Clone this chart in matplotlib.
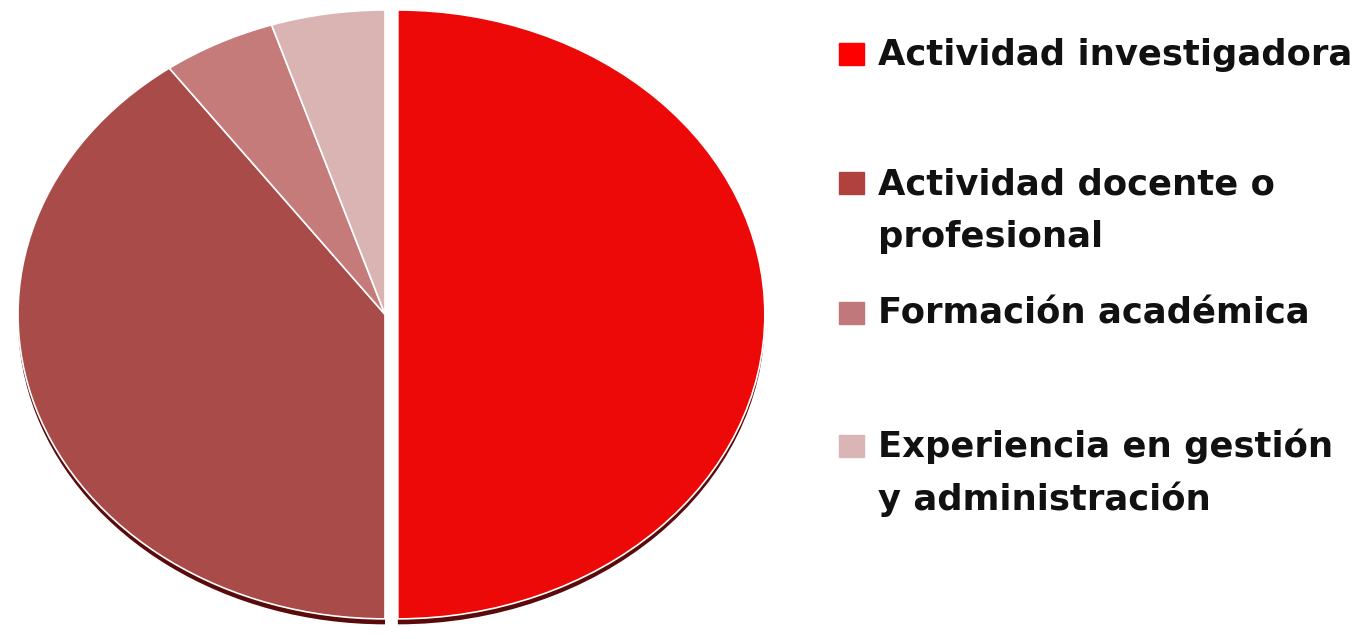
import matplotlib.pyplot as plt
from matplotlib.patches import Rectangle

# datos (porcentajes)
categorias = ["Actividad investigadora", "Actividad docente o\nprofesional",
              "Formación académica", "Experiencia en gestión\ny administración"]
valores = [50, 40, 5, 5]
colores_pie = ["#EE0909", "#A84B49", "#C47B7A", "#D9B4B3"]
colores_leyenda = ["#FF0000", "#B0413F", "#C0787A", "#D9B5B5"]
explode = [0.035, 0, 0, 0]

W, H = 1352, 639
fig = plt.figure(figsize=(W / 100, H / 100), dpi=100)

# ejes del pie (elipse, sin aspecto igual)
x0, x1 = -1.0, 1.06
rx, ry = 367, 309
ax = fig.add_axes([18 / W, (H - 628) / H, rx * (x1 - x0) / W, 2 * ry / H])

# sombra oscura debajo
ax.pie(valores, colors=["#5A0A0A"] * 4, startangle=90, counterclock=False,
       explode=explode, center=(0, -0.018), wedgeprops=dict(linewidth=0))
ax.pie(valores, colors=colores_pie, startangle=90, counterclock=False,
       explode=explode, wedgeprops=dict(edgecolor="white", linewidth=1.2))
ax.set_aspect("auto")
ax.set_xlim(x0, x1)
ax.set_ylim(-1.03, 1.0)
ax.axis("off")

# leyenda manual
baselines = [65, 194, 324, 457]
for lab, col, yb in zip(categorias, colores_leyenda, baselines):
    fig.patches.append(Rectangle((839 / W, (H - yb) / H), 25 / W, 22 / H,
                                 transform=fig.transFigure, color=col))
    for i, linea in enumerate(lab.split("\n")):
        fig.text(878 / W, (H - yb - i * 53) / H, linea, fontsize=25.5,
                 fontweight="bold", family="DejaVu Sans", va="baseline",
                 ha="left", color="#111111")

fig.savefig("out.png", dpi=100)
